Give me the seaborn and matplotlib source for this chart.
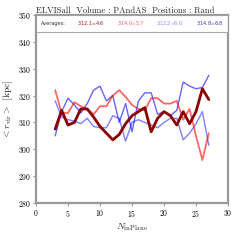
import numpy as np
import pandas as pd
import matplotlib
matplotlib.use('Agg')
import matplotlib.pyplot as plt
import seaborn as sns

# N_inPlane values
n_inplane = list(range(3, 28))

# mean r_vir for each run
r_darkred = [307.5, 314.5, 309.0, 310.0, 315.0, 315.0, 312.0, 308.5, 306.0, 303.5,
             305.5, 309.5, 312.5, 314.0, 315.5, 306.5, 311.5, 314.0, 312.5, 309.0,
             314.0, 309.5, 314.0, 322.5, 318.5]
r_red = [322.0, 313.5, 313.5, 317.5, 316.0, 315.0, 313.0, 316.0, 316.0, 320.0,
         322.0, 319.5, 316.5, 315.0, 314.5, 319.0, 319.0, 317.0, 317.0, 318.0,
         311.0, 315.0, 305.0, 296.0, 306.0]
r_lightblue = [318.0, 312.0, 311.0, 310.5, 309.5, 311.5, 308.5, 308.0, 308.0, 312.5,
               311.5, 303.0, 310.0, 311.0, 310.0, 309.0, 308.0, 310.0, 311.5, 311.5,
               303.5, 306.0, 309.5, 314.0, 301.5]
r_blue = [305.0, 314.0, 319.0, 316.5, 313.5, 317.0, 322.0, 323.5, 318.0, 320.0,
          310.0, 317.0, 306.5, 318.0, 321.0, 321.0, 313.0, 314.0, 312.5, 314.5,
          325.0, 323.5, 322.5, 323.0, 327.5]

avg_labels = ['Averages:', '312.1$\\pm$4.6', '314.0$\\pm$5.7', '312.2$\\pm$6.0', '314.8$\\pm$6.8']
avg_colors = ['#333333', '#a01818', '#e86060', '#8888ee', '#3a3aa8']

sns.set_style('ticks')
plt.rcParams['font.family'] = 'serif'
plt.rcParams['font.serif'] = ['cmr10', 'DejaVu Serif']
plt.rcParams['mathtext.fontset'] = 'cm'
plt.rcParams['axes.formatter.use_mathtext'] = True

df = pd.DataFrame({'N': n_inplane, 'darkred': r_darkred, 'red': r_red,
                   'lightblue': r_lightblue, 'blue': r_blue})

fig = plt.figure(figsize=(2.4, 2.4), dpi=100)
ax = fig.add_axes([0.15, 0.154, 0.80, 0.784])

sns.lineplot(data=df, x='N', y='lightblue', ax=ax, color='blue', alpha=0.5, lw=1.0)
sns.lineplot(data=df, x='N', y='blue', ax=ax, color='blue', alpha=0.6, lw=1.0)
sns.lineplot(data=df, x='N', y='red', ax=ax, color='red', alpha=0.6, lw=1.3)
sns.lineplot(data=df, x='N', y='darkred', ax=ax, color='#8b0000', lw=2.0)

ax.set_xlim(0, 30)
ax.set_ylim(280, 350)
ax.set_xticks([0, 5, 10, 15, 20, 25, 30])
ax.set_yticks([280, 290, 300, 310, 320, 330, 340, 350])
ax.tick_params(labelsize=5.5, colors='#999999', labelcolor='black', length=2, width=0.8, pad=1.5)
for s in ax.spines.values():
    s.set_color('#999999')
    s.set_linewidth(1.6)

ax.set_xlabel(r'$N_{\rm inPlane}$', fontsize=7, labelpad=2)
ax.set_ylabel(r'$<r_{\rm vir}>$ [kpc]', fontsize=7, labelpad=2)
ax.set_title('ELVISall  Volume : PAndAS  Positions : Rand', fontsize=6.2, loc='left', pad=1.5)

handles = [plt.Line2D([], [], lw=0) for _ in avg_labels]
leg = ax.legend(handles, avg_labels, ncol=5, loc='upper left', mode='expand',
                bbox_to_anchor=(0.0, 0.0, 1.0, 1.0), handlelength=0, handletextpad=0,
                columnspacing=0.5, labelcolor=avg_colors, fancybox=False,
                prop={'family': 'DejaVu Sans', 'size': 3.6}, borderpad=0.9,
                borderaxespad=0.0)
leg.get_frame().set_edgecolor('#999999')
leg.get_frame().set_linewidth(0.8)

fig.savefig('out.png', dpi=100)
